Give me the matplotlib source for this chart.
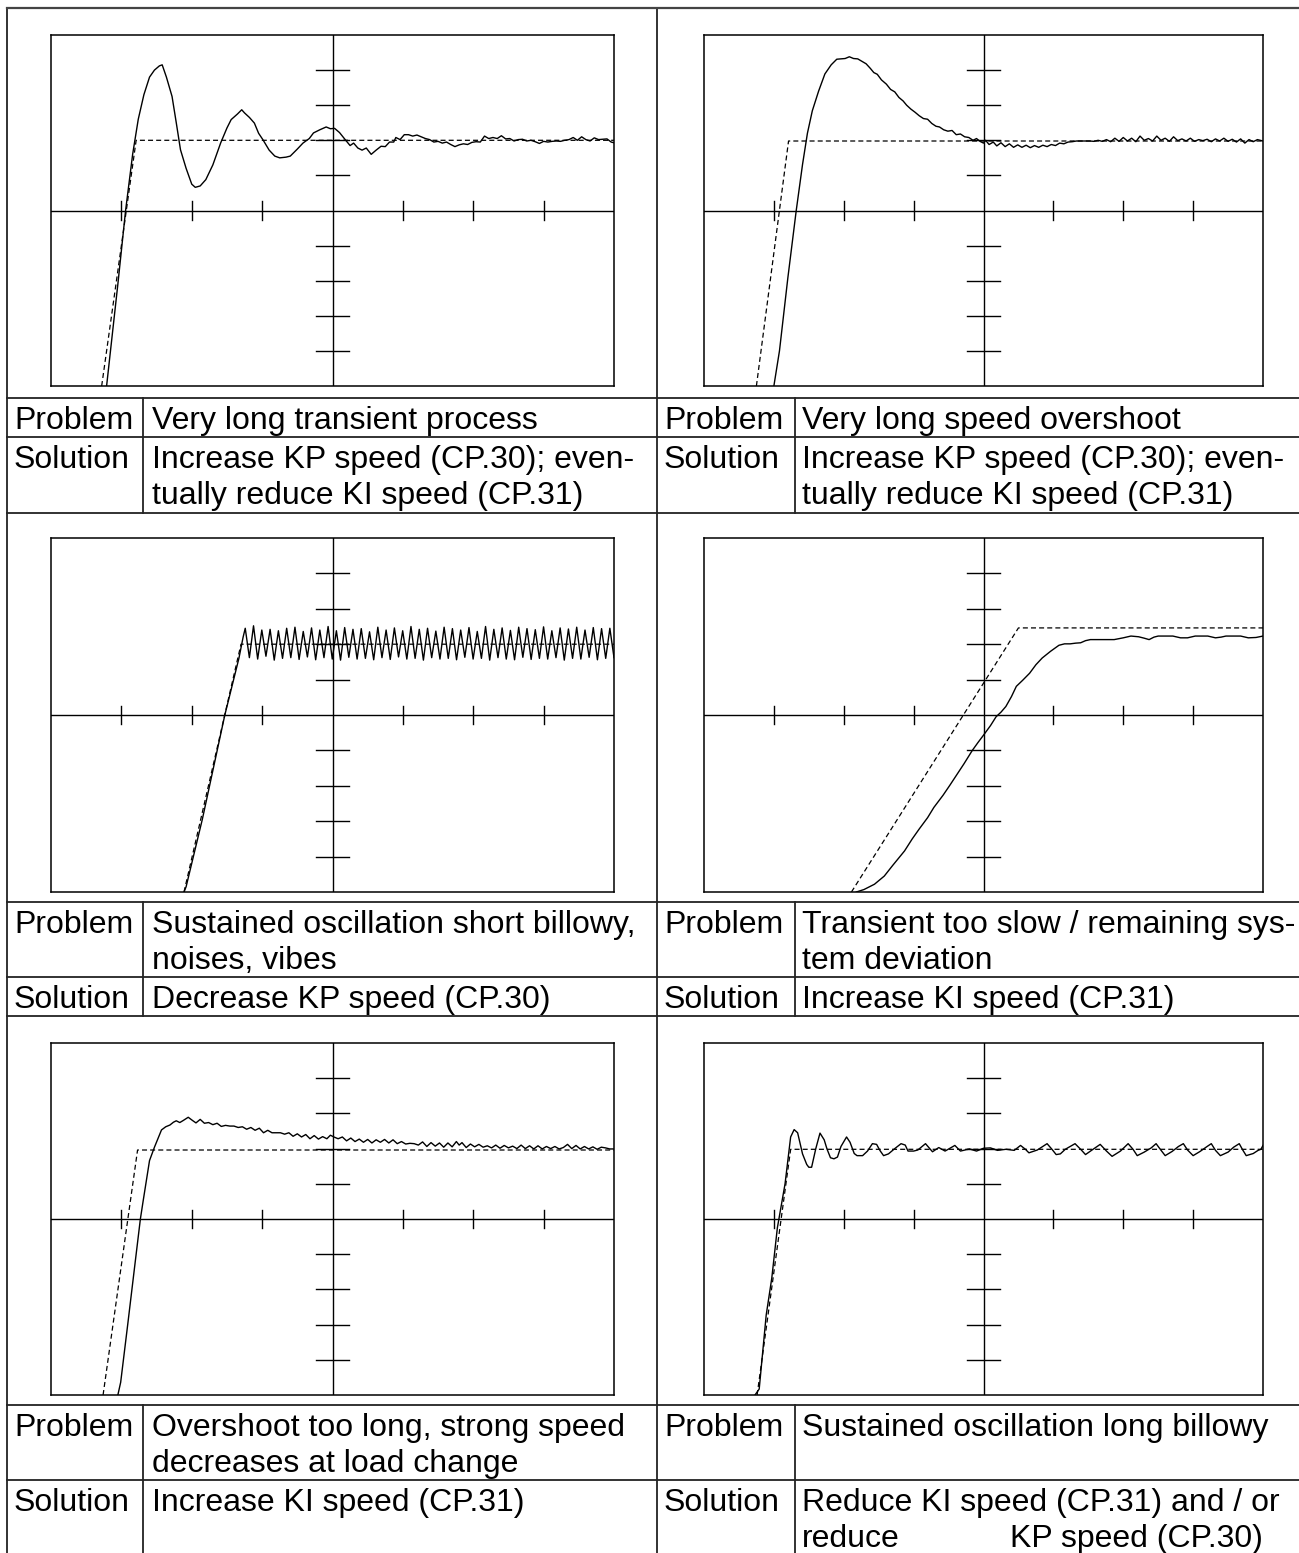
import numpy as np
import matplotlib.pyplot as plt

plt.rcParams['font.family'] = ['Liberation Sans', 'DejaVu Sans']

W, H = 1299, 1553

# ---- panel 1: very long transient process ----
p1_x = [-3.21, -3.05, -2.94, -2.84, -2.76, -2.68, -2.60, -2.53, -2.46, -2.42,
        -2.36, -2.28, -2.22, -2.16, -2.08, -2.00, -1.95, -1.88, -1.80, -1.70,
        -1.59, -1.50, -1.44, -1.35, -1.29, -1.25, -1.18, -1.11, -1.05, -0.99,
        -0.90, -0.82, -0.75, -0.66, -0.60, -0.50, -0.42, -0.33, -0.27, -0.18,
        -0.09, -0.03, 0.03, 0.10, 0.18, 0.25, 0.30, 0.36, 0.42, 0.48,
        0.55, 0.62, 0.69, 0.75, 0.81, 0.87, 0.90, 0.96, 1.02, 1.08,
        1.14, 1.20, 1.26, 1.32, 1.38, 1.44, 1.50, 1.56, 1.62, 1.68,
        1.74, 1.80, 1.86, 1.92, 1.98, 2.04, 2.10, 2.16, 2.22, 2.28,
        2.34, 2.40, 2.46, 2.52, 2.58, 2.64, 2.70, 2.76, 2.82, 2.88,
        2.94, 3.00, 3.06, 3.12, 3.18, 3.24, 3.30, 3.36, 3.42, 3.48,
        3.54, 3.60, 3.66, 3.72, 3.78, 3.84, 3.90, 3.96, 4.00]
p1_y = [-5.00, -2.10, 0.00, 1.60, 2.60, 3.30, 3.80, 4.00, 4.12, 4.15,
        3.80, 3.25, 2.50, 1.73, 1.20, 0.75, 0.66, 0.70, 0.88, 1.30,
        1.92, 2.35, 2.59, 2.75, 2.87, 2.78, 2.65, 2.49, 2.20, 2.02,
        1.72, 1.55, 1.50, 1.52, 1.55, 1.75, 1.92, 2.05, 2.21, 2.30,
        2.38, 2.33, 2.34, 2.22, 2.02, 1.85, 1.92, 1.78, 1.72, 1.78,
        1.60, 1.72, 1.83, 1.82, 1.95, 1.95, 2.08, 2.02, 2.16, 2.16,
        2.12, 2.15, 2.10, 2.05, 2.02, 1.95, 1.97, 1.92, 1.95, 1.88,
        1.82, 1.87, 1.90, 1.88, 1.94, 1.96, 1.95, 2.12, 2.05, 2.08,
        2.05, 2.13, 2.04, 2.05, 1.98, 2.02, 2.03, 1.98, 2.00, 1.96,
        1.91, 1.97, 1.95, 1.97, 1.98, 1.97, 2.00, 2.02, 2.08, 2.00,
        2.10, 2.02, 1.98, 2.07, 2.02, 2.03, 2.04, 1.95, 1.93]
p1_ref_x = [-3.28, -2.79, 4.00]
p1_ref_y = [-5.00, 2.00, 2.00]

# ---- panel 2: very long speed overshoot ----
p2_x = [-3.00, -2.92, -2.80, -2.68, -2.59, -2.52, -2.45, -2.36, -2.27, -2.18,
        -2.10, -2.04, -1.98, -1.92, -1.86, -1.80, -1.74, -1.68, -1.62, -1.57,
        -1.52, -1.46, -1.39, -1.33, -1.27, -1.21, -1.15, -1.10, -1.04, -0.98,
        -0.92, -0.86, -0.80, -0.74, -0.68, -0.63, -0.57, -0.51, -0.45, -0.39,
        -0.33, -0.27, -0.21, -0.15, -0.10, -0.05, 0.00, 0.03, 0.08, 0.14,
        0.19, 0.25, 0.31, 0.37, 0.43, 0.49, 0.55, 0.61, 0.67, 0.73,
        0.79, 0.85, 0.91, 0.97, 1.03, 1.09, 1.15, 1.21, 1.27, 1.33,
        1.40, 1.46, 1.52, 1.58, 1.64, 1.70, 1.76, 1.82, 1.88, 1.94,
        2.00, 2.06, 2.12, 2.18, 2.24, 2.30, 2.36, 2.42, 2.48, 2.54,
        2.60, 2.66, 2.72, 2.78, 2.84, 2.90, 2.96, 3.02, 3.08, 3.14,
        3.20, 3.26, 3.32, 3.38, 3.44, 3.50, 3.56, 3.62, 3.68, 3.74,
        3.80, 3.86, 3.92, 4.00]
p2_y = [-5.00, -4.00, -1.92, 0.00, 1.31, 2.20, 2.84, 3.40, 3.89, 4.15,
        4.31, 4.32, 4.33, 4.38, 4.33, 4.32, 4.25, 4.18, 4.05, 3.93,
        3.88, 3.72, 3.60, 3.45, 3.38, 3.22, 3.12, 3.00, 2.89, 2.80,
        2.70, 2.62, 2.60, 2.48, 2.40, 2.38, 2.30, 2.26, 2.28, 2.16,
        2.18, 2.10, 2.08, 2.00, 2.05, 1.97, 1.92, 2.00, 1.88, 1.95,
        1.84, 1.93, 1.82, 1.90, 1.80, 1.87, 1.80, 1.86, 1.79, 1.85,
        1.80, 1.86, 1.82, 1.88, 1.85, 1.92, 1.90, 1.95, 1.96, 1.98,
        1.98, 1.98, 1.98, 1.97, 2.00, 1.97, 2.02, 1.96, 2.06, 1.97,
        2.08, 1.98, 2.06, 1.96, 2.12, 2.00, 2.05, 1.98, 2.12, 2.00,
        2.06, 1.97, 2.10, 1.99, 2.04, 1.98, 2.06, 1.97, 2.02, 1.99,
        2.03, 1.96, 2.04, 1.98, 2.06, 1.97, 2.03, 1.95, 2.04, 1.92,
        2.02, 1.96, 2.02, 1.98]
p2_ref_x = [-3.25, -2.79, 4.00]
p2_ref_y = [-5.00, 1.98, 1.98]

# ---- panel 3: sustained short oscillation ----
p3_ramp_x = [-2.11, -2.08, -1.85, -1.53, -1.33, -1.27]
p3_ramp_y = [-5.00, -4.85, -2.95, 0.00, 1.60, 2.20]
p3_osc_y = [2.45, 1.62, 2.52, 1.58, 2.40, 1.66, 2.42, 1.55, 2.38, 1.60,
            2.45, 1.62, 2.48, 1.57, 2.36, 1.64, 2.46, 1.56, 2.40, 1.62,
            2.50, 1.58, 2.38, 1.55, 2.47, 1.63, 2.42, 1.58, 2.44, 1.60,
            2.35, 1.56, 2.48, 1.62, 2.40, 1.57, 2.46, 1.64, 2.38, 1.58,
            2.50, 1.60, 2.42, 1.55, 2.45, 1.62, 2.37, 1.58, 2.48, 1.60,
            2.44, 1.56, 2.40, 1.63, 2.47, 1.58, 2.36, 1.60, 2.50, 1.55,
            2.42, 1.62, 2.46, 1.58, 2.39, 1.56, 2.48, 1.63, 2.44, 1.57,
            2.41, 1.60, 2.49, 1.58, 2.38, 1.62, 2.46, 1.55, 2.43, 1.60,
            2.48, 1.58, 2.40, 1.63, 2.47, 1.56, 2.44, 1.60, 2.45, 1.62]
p3_osc_start, p3_osc_end = -1.24, 4.00
p3_ref_x = [-2.11, -1.30, 4.00]
p3_ref_y = [-5.00, 2.00, 2.00]

# ---- panel 4: transient too slow ----
p4_x = [-1.82, -1.71, -1.56, -1.42, -1.30, -1.13, -1.02, -0.92, -0.80, -0.71,
        -0.58, -0.48, -0.39, -0.28, -0.16, -0.08, 0.00, 0.10, 0.18, 0.25,
        0.32, 0.40, 0.47, 0.56, 0.66, 0.75, 0.84, 0.96, 1.08, 1.16,
        1.24, 1.32, 1.39, 1.46, 1.53, 1.70, 1.87, 2.00, 2.11, 2.22,
        2.30, 2.37, 2.44, 2.50, 2.60, 2.71, 2.82, 2.92, 3.03, 3.13,
        3.21, 3.32, 3.40, 3.47, 3.57, 3.68, 3.79, 3.90, 4.00]
p4_y = [-5.00, -4.93, -4.78, -4.55, -4.25, -3.84, -3.50, -3.22, -2.90, -2.61,
        -2.27, -1.98, -1.71, -1.38, -1.00, -0.78, -0.57, -0.30, -0.05, 0.08,
        0.24, 0.52, 0.81, 0.98, 1.18, 1.42, 1.61, 1.80, 1.97, 2.01,
        2.01, 2.03, 2.04, 2.10, 2.13, 2.13, 2.13, 2.18, 2.23, 2.21,
        2.17, 2.13, 2.20, 2.23, 2.23, 2.23, 2.18, 2.18, 2.23, 2.23,
        2.23, 2.18, 2.20, 2.23, 2.23, 2.23, 2.18, 2.19, 2.23]
p4_ref_x = [-1.89, 0.50, 4.00]
p4_ref_y = [-5.00, 2.46, 2.46]

# ---- panel 5: overshoot too long ----
p5_x = [-3.05, -3.01, -2.91, -2.81, -2.73, -2.69, -2.60, -2.53, -2.43, -2.37,
        -2.31, -2.26, -2.22, -2.17, -2.12, -2.05, -1.99, -1.94, -1.88, -1.82,
        -1.76, -1.70, -1.64, -1.58, -1.52, -1.46, -1.40, -1.34, -1.28, -1.22,
        -1.16, -1.10, -1.04, -0.98, -0.92, -0.86, -0.80, -0.74, -0.68, -0.62,
        -0.56, -0.50, -0.44, -0.38, -0.32, -0.26, -0.20, -0.14, -0.08, -0.03,
        0.02, 0.08, 0.14, 0.20, 0.26, 0.32, 0.38, 0.44, 0.50, 0.56,
        0.62, 0.68, 0.74, 0.80, 0.86, 0.92, 0.98, 1.04, 1.10, 1.16,
        1.22, 1.28, 1.34, 1.40, 1.46, 1.52, 1.58, 1.64, 1.70, 1.76,
        1.80, 1.84, 1.90, 1.96, 2.02, 2.08, 2.14, 2.20, 2.26, 2.32,
        2.38, 2.44, 2.50, 2.56, 2.62, 2.68, 2.74, 2.80, 2.86, 2.92,
        2.98, 3.04, 3.10, 3.16, 3.22, 3.28, 3.34, 3.40, 3.46, 3.52,
        3.58, 3.64, 3.70, 3.76, 3.82, 3.88, 3.94, 4.00]
p5_y = [-5.00, -4.64, -3.00, -1.33, 0.00, 0.52, 1.66, 2.04, 2.53, 2.62,
        2.67, 2.75, 2.79, 2.74, 2.80, 2.89, 2.80, 2.73, 2.83, 2.72,
        2.74, 2.68, 2.72, 2.63, 2.66, 2.64, 2.64, 2.60, 2.62, 2.55,
        2.60, 2.52, 2.58, 2.45, 2.52, 2.45, 2.45, 2.45, 2.41, 2.45,
        2.35, 2.42, 2.33, 2.40, 2.28, 2.37, 2.27, 2.34, 2.28, 2.38,
        2.33, 2.28, 2.33, 2.22, 2.30, 2.20, 2.27, 2.18, 2.26, 2.16,
        2.25, 2.18, 2.26, 2.16, 2.25, 2.14, 2.20, 2.13, 2.15, 2.14,
        2.10, 2.19, 2.06, 2.17, 2.07, 2.16, 2.04, 2.16, 2.05, 2.20,
        2.10, 2.17, 2.03, 2.13, 2.05, 2.12, 2.04, 2.08, 2.02, 2.10,
        2.01, 2.09, 2.02, 2.07, 2.00, 2.10, 2.00, 2.08, 1.99, 2.08,
        1.99, 2.06, 2.00, 2.06, 1.99, 2.03, 2.12, 2.00, 2.09, 1.99,
        2.06, 1.99, 2.05, 1.98, 2.04, 2.02, 1.99, 1.99]
p5_ref_x = [-3.26, -2.77, 4.00]
p5_ref_y = [-5.00, 1.96, 1.96]

# ---- panel 6: sustained long oscillation ----
p6_x = [-3.27, -3.21, -3.11, -3.03, -2.95, -2.84, -2.76, -2.71, -2.66, -2.59,
        -2.53, -2.50, -2.46, -2.40, -2.34, -2.28, -2.24, -2.19, -2.14, -2.09,
        -2.04, -1.96, -1.91, -1.85, -1.81, -1.73, -1.66, -1.59, -1.53, -1.48,
        -1.43, -1.36, -1.27, -1.18, -1.12, -1.08, -1.00, -0.94, -0.83, -0.73,
        -0.64, -0.55, -0.41, -0.33, -0.20, -0.10, 0.00, 0.10, 0.20, 0.32,
        0.44, 0.53, 0.60, 0.65, 0.77, 0.91, 0.98, 1.04, 1.10, 1.17,
        1.31, 1.40, 1.46, 1.56, 1.67, 1.76, 1.84, 1.96, 2.07, 2.14,
        2.20, 2.30, 2.40, 2.47, 2.53, 2.60, 2.70, 2.79, 2.86, 2.92,
        3.00, 3.10, 3.20, 3.26, 3.32, 3.39, 3.50, 3.58, 3.66, 3.71,
        3.76, 3.86, 3.93, 3.97, 4.00]
p6_y = [-5.00, -4.83, -2.73, -1.68, -0.25, 1.00, 2.33, 2.54, 2.45, 1.85,
        1.55, 1.47, 1.47, 2.00, 2.44, 2.25, 1.99, 1.74, 1.71, 1.76,
        2.06, 2.33, 2.18, 1.86, 1.80, 1.80, 1.93, 2.14, 2.12, 1.94,
        1.80, 1.85, 2.00, 2.14, 2.10, 1.93, 1.93, 1.96, 2.14, 1.91,
        2.03, 1.93, 2.09, 1.93, 1.99, 1.93, 2.01, 2.02, 1.95, 1.98,
        1.95, 2.09, 1.98, 1.88, 1.96, 2.14, 1.98, 1.83, 1.85, 1.98,
        2.14, 1.96, 1.83, 1.97, 2.12, 1.93, 1.78, 1.93, 2.14, 1.98,
        1.80, 1.90, 2.02, 2.14, 1.98, 1.80, 1.92, 2.06, 2.14, 1.96,
        1.80, 1.92, 2.06, 2.14, 1.95, 1.80, 1.90, 2.04, 2.14, 1.96,
        1.80, 1.86, 1.95, 1.98, 2.09]
p6_ref_x = [-3.24, -2.76, 4.00]
p6_ref_y = [-5.00, 1.98, 1.98]

x_ticks = [-3, -2, -1, 1, 2, 3]
y_ticks = [-4, -3, -2, -1, 1, 2, 3, 4]

problems = [
    ["Very long transient process"],
    ["Very long speed overshoot"],
    ["Sustained oscillation short billowy,", "noises, vibes"],
    ["Transient too slow / remaining sys-", "tem deviation"],
    ["Overshoot too long, strong speed", "decreases at load change"],
    ["Sustained oscillation long billowy"],
]
solutions = [
    ["Increase KP speed (CP.30); even-", "tually reduce KI speed (CP.31)"],
    ["Increase KP speed (CP.30); even-", "tually reduce KI speed (CP.31)"],
    ["Decrease KP speed (CP.30)"],
    ["Increase KI speed (CP.31)"],
    ["Increase KI speed (CP.31)"],
    ["Reduce KI speed (CP.31) and / or", "reduce", "KP speed (CP.30)"],
]

fig = plt.figure(figsize=(W / 100, H / 100), dpi=100)

# background axes in pixel units for the table
bg = fig.add_axes([0, 0, 1, 1])
bg.set_xlim(0, W)
bg.set_ylim(H, 0)
bg.axis('off')

line_kw = dict(color='#222222', lw=1.3)
# outer and middle verticals
bg.plot([7, 7], [8, H], **line_kw)
bg.plot([657, 657], [8, H], **line_kw)
bg.plot([7, W], [8, 8], color='#444444', lw=1.6)

# rows: (problem top, solution top, row bottom)
rows = [(398, 437, 513), (902, 977, 1016), (1405, 1480, H)]
col_x = [(7, 143, 152, 14), (657, 795, 802, 664)]
fs = 23
for r, (yp, ys, yb) in enumerate(rows):
    bg.plot([7, W], [yp, yp], **line_kw)
    bg.plot([7, W], [ys, ys], **line_kw)
    if yb < H:
        bg.plot([7, W], [yb, yb], **line_kw)
    for c, (x0, xd, xt, xl) in enumerate(col_x):
        bg.plot([xd, xd], [yp, yb], **line_kw)
        i = r * 2 + c
        bg.text(xl, yp + 31, "Problem", fontsize=fs, va='baseline')
        bg.text(xl, ys + 31, "Solution", fontsize=fs, va='baseline')
        for k, s in enumerate(problems[i]):
            bg.text(xt, yp + 31 + 36 * k, s, fontsize=fs, va='baseline')
        sol = solutions[i]
        if i == 5:
            # last line is justified in the original: two pieces, wide gap
            bg.text(xt, ys + 31, sol[0], fontsize=fs, va='baseline')
            bg.text(xt, ys + 67, sol[1], fontsize=fs, va='baseline')
            bg.text(1010, ys + 67, sol[2], fontsize=fs, va='baseline')
        else:
            for k, s in enumerate(sol):
                bg.text(xt, ys + 31 + 36 * k, s, fontsize=fs, va='baseline')


def add_panel(x0, y0, x1, y1):
    ax = fig.add_axes([x0 / W, 1 - y1 / H, (x1 - x0) / W, (y1 - y0) / H])
    ax.set_xlim(-4, 4)
    ax.set_ylim(-5, 5)
    ax.set_xticks([])
    ax.set_yticks([])
    for sp in ax.spines.values():
        sp.set_linewidth(1.1)
        sp.set_color('black')
    ax.axhline(0, color='black', lw=1.0)
    ax.axvline(0, color='black', lw=1.0)
    for xt in x_ticks:
        ax.plot([xt, xt], [-0.26, 0.26], color='black', lw=1.0)
    for yt in y_ticks:
        ax.plot([-0.24, 0.24], [yt, yt], color='black', lw=1.0)
    return ax


boxes = [(51, 35, 614, 386), (704, 35, 1263, 386),
         (51, 538, 614, 892), (704, 538, 1263, 892),
         (51, 1043, 614, 1395), (704, 1043, 1263, 1395)]

p3_x = p3_ramp_x + list(np.linspace(p3_osc_start, p3_osc_end, len(p3_osc_y)))
p3_y = p3_ramp_y + p3_osc_y

curves = [(p1_x, p1_y, p1_ref_x, p1_ref_y),
          (p2_x, p2_y, p2_ref_x, p2_ref_y),
          (p3_x, p3_y, p3_ref_x, p3_ref_y),
          (p4_x, p4_y, p4_ref_x, p4_ref_y),
          (p5_x, p5_y, p5_ref_x, p5_ref_y),
          (p6_x, p6_y, p6_ref_x, p6_ref_y)]

for box, (sx, sy, rx, ry) in zip(boxes, curves):
    ax = add_panel(*box)
    ax.plot(rx, ry, color='black', lw=0.9, dashes=(4, 2.5))
    ax.plot(sx, sy, color='black', lw=1.0)

fig.savefig('out.png', dpi=100)
